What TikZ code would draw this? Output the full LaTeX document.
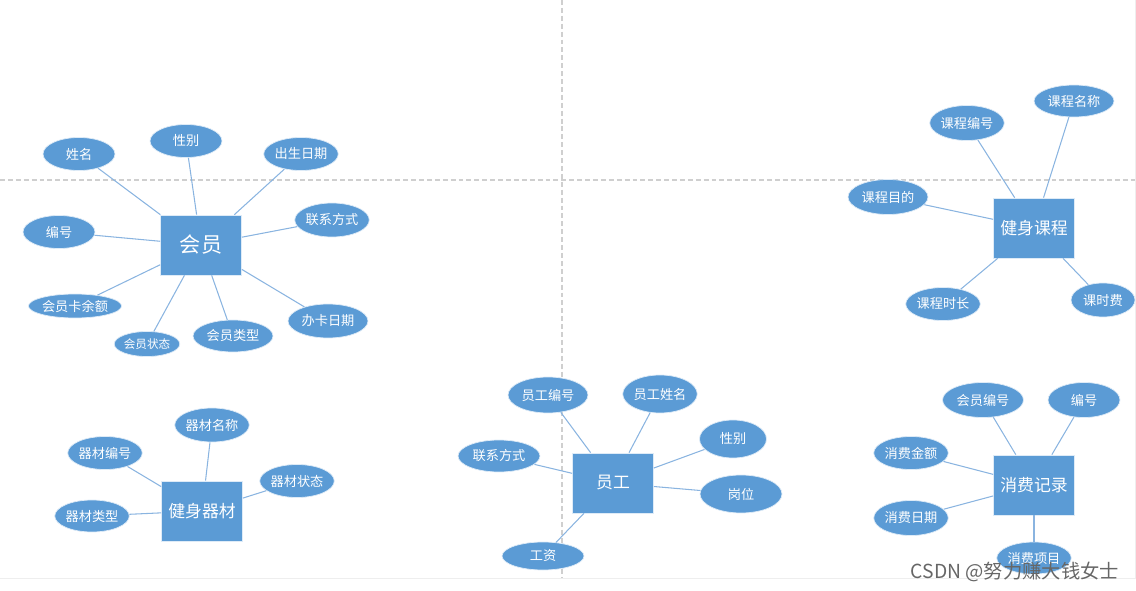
\documentclass[tikz,border=0pt]{standalone}
\usepackage{fontspec}
\setmainfont{Noto Sans CJK SC}
\usepackage{tikz}
\usetikzlibrary{shapes.geometric}
\definecolor{erblue}{HTML}{5B9BD5}
\definecolor{linkblue}{HTML}{8AB4E0}
\definecolor{guide}{HTML}{CFCFCF}
\tikzstyle{entity} = [rectangle, minimum width=1.62cm, minimum height=1.2cm, inner sep=0pt, text centered, draw=white!80!erblue, fill=erblue, text=white, font=\fontsize{9.6}{11}\selectfont]
\tikzstyle{attr} = [ellipse, minimum width=1.44cm, minimum height=0.66cm, inner sep=0pt, draw=white!80!erblue, fill=erblue, text=white, font=\fontsize{7.5}{9}\selectfont]
\tikzstyle{link} = [draw=linkblue, line width=0.6pt]
\tikzstyle{guideline} = [draw=guide, dash pattern=on 2.8pt off 1.7pt, line width=0.6pt]

\begin{document}
\begin{tikzpicture}[x=0.02cm, y=-0.02cm]
	\useasboundingbox (0,0) rectangle (1136,591);
	% page guides
	\draw [guideline] (0,180) -- (1136,180);
	\draw [guideline] (562,0) -- (562,578);
	\draw [draw=guide!35, line width=0.5pt] (0,578) -- (1136,578);
	\draw [draw=guide!35, line width=0.5pt] (1135,0) -- (1135,578);

	% member
	\node (mem) [entity, font=\fontsize{12}{14}\selectfont] at (201,245) {会员};
	\node (memName) [attr] at (79,154) {姓名};
	\node (memSex) [attr] at (186,141) {性别};
	\node (memBirth) [attr] at (301,154) {出生日期};
	\node (memTel) [attr, minimum height=0.68cm] at (332,220) {联系方式};
	\node (memId) [attr] at (59,232) {编号};
	\node (memBal) [attr, minimum width=1.62cm, minimum height=0.48cm] at (75,306) {会员卡余额};
	\node (memState) [attr, minimum width=1.2cm, minimum height=0.5cm, font=\fontsize{6.6}{8}\selectfont] at (147,344) {会员状态};
	\node (memType) [attr, minimum width=1.6cm, minimum height=0.64cm] at (233,336) {会员类型};
	\node (memDate) [attr, minimum width=1.6cm, minimum height=0.68cm] at (328,321) {办卡日期};
	\draw [link] (mem) -- (memName);
	\draw [link] (mem) -- (memSex);
	\draw [link] (mem) -- (memBirth);
	\draw [link] (mem) -- (memTel);
	\draw [link] (mem) -- (memId);
	\draw [link] (mem) -- (memBal);
	\draw [link] (mem) -- (memState);
	\draw [link] (mem) -- (memType);
	\draw [link] (mem) -- (memDate);

	% course
	\node (course) [entity] at (1034,228) {健身课程};
	\node (courseId) [attr, minimum height=0.7cm] at (967,123) {课程编号};
	\node (courseName) [attr, minimum width=1.6cm, minimum height=0.64cm] at (1074,101) {课程名称};
	\node (courseAim) [attr, minimum width=1.6cm, minimum height=0.7cm] at (888,197) {课程目的};
	\node (courseLen) [attr] at (943,304) {课程时长};
	\node (courseFee) [attr, minimum width=1.28cm, minimum height=0.68cm] at (1103,300) {课时费};
	\draw [link] (course) -- (courseId);
	\draw [link] (course) -- (courseName);
	\draw [link] (course) -- (courseAim);
	\draw [link] (course) -- (courseLen);
	\draw [link] (course) -- (courseFee);

	% equipment
	\node (equip) [entity] at (202,511) {健身器材};
	\node (equipName) [attr, minimum width=1.34cm, minimum height=0.68cm] at (212,425) {器材名称};
	\node (equipId) [attr, minimum width=1.32cm] at (105,453) {器材编号};
	\node (equipState) [attr, minimum width=1.34cm] at (297,481) {器材状态};
	\node (equipType) [attr, minimum width=1.36cm, minimum height=0.64cm] at (92,516) {器材类型};
	\draw [link] (equip) -- (equipName);
	\draw [link] (equip) -- (equipId);
	\draw [link] (equip) -- (equipState);
	\draw [link] (equip) -- (equipType);

	% staff
	\node (staff) [entity] at (613,483) {员工};
	\node (staffId) [attr, minimum width=1.6cm, minimum height=0.72cm] at (548,395) {员工编号};
	\node (staffName) [attr, minimum width=1.34cm, minimum height=0.76cm] at (660,394) {员工姓名};
	\node (staffSex) [attr, minimum width=1.34cm, minimum height=0.76cm] at (733,439) {性别};
	\node (staffPost) [attr, minimum width=1.64cm, minimum height=0.76cm] at (741,494) {岗位};
	\node (staffTel) [attr, minimum width=1.64cm, minimum height=0.64cm] at (499,456) {联系方式};
	\node (staffPay) [attr, minimum width=1.64cm, minimum height=0.56cm] at (543,556) {工资};
	\draw [link] (staff) -- (staffId);
	\draw [link] (staff) -- (staffName);
	\draw [link] (staff) -- (staffSex);
	\draw [link] (staff) -- (staffPost);
	\draw [link] (staff) -- (staffTel);
	\draw [link] (staff) -- (staffPay);

	% consumption record
	\node (rec) [entity] at (1034,485) {消费记录};
	\node (recMem) [attr, minimum width=1.62cm, minimum height=0.7cm] at (983,400) {会员编号};
	\node (recId) [attr, minimum height=0.7cm] at (1084,400) {编号};
	\node (recSum) [attr, minimum width=1.42cm] at (911,453) {消费金额};
	\node (recDate) [attr, minimum width=1.42cm, minimum height=0.7cm] at (911,518) {消费日期};
	\node (recItem) [attr, minimum width=1.46cm, minimum height=0.64cm] at (1034,558) {消费项目};
	\draw [link] (rec) -- (recMem);
	\draw [link] (rec) -- (recId);
	\draw [link] (rec) -- (recSum);
	\draw [link] (rec) -- (recDate);
	\draw [link] (rec) -- (recItem);

	\node (mark) [text=black!60, font=\fontsize{11}{13}\selectfont] at (1015,572) {CSDN @努力赚大钱女士};
\end{tikzpicture}
\end{document}
